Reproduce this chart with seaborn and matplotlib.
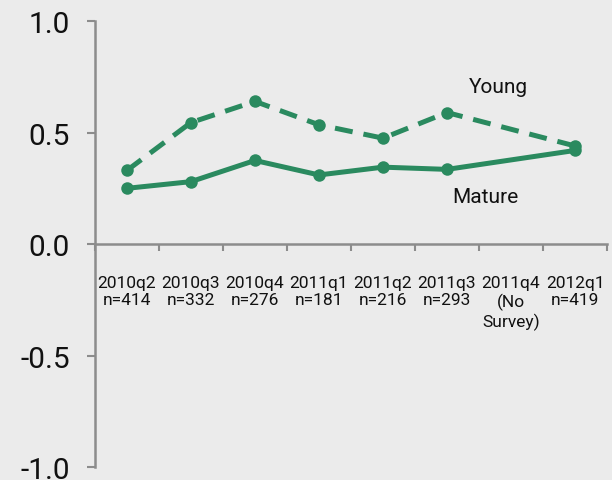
import numpy as np
import pandas as pd
import matplotlib
matplotlib.use("Agg")
import matplotlib.pyplot as plt
import seaborn as sns

# Quarterly survey waves (2011q4 had no survey)
quarters = ["2010q2", "2010q3", "2010q4", "2011q1", "2011q2", "2011q3", "2011q4", "2012q1"]
sample_sizes = ["n=414", "n=332", "n=276", "n=181", "n=216", "n=293", "(No\nSurvey)", "n=419"]
young = [0.33, 0.545, 0.64, 0.535, 0.475, 0.59, np.nan, 0.44]
mature = [0.25, 0.28, 0.375, 0.31, 0.345, 0.335, np.nan, 0.42]

tick_labels = [f"{q}\n{n}" for q, n in zip(quarters, sample_sizes)]

df = pd.DataFrame({
    "pos": list(range(len(quarters))) * 2,
    "value": young + mature,
    "Group": ["Young"] * len(quarters) + ["Mature"] * len(quarters),
}).dropna()

sns.set_theme(style="white")
plt.rcParams["font.family"] = ["Roboto", "DejaVu Sans"]

green = "#2a8a5f"
bg = "#ebebeb"
axis_grey = "#8c8c8c"
text_col = "#111111"

fig = plt.figure(figsize=(6.12, 4.81), dpi=100)
fig.patch.set_facecolor(bg)
ax = fig.add_axes([0.155, 0.027, 0.837, 0.927])
ax.set_facecolor(bg)

sns.lineplot(
    data=df, x="pos", y="value", hue="Group", style="Group",
    palette={"Young": green, "Mature": green},
    dashes={"Young": (3.6, 2.2), "Mature": ""},
    markers={"Young": "o", "Mature": "o"},
    markersize=9, markeredgewidth=0, linewidth=3.6,
    legend=False, ax=ax,
)

ax.set_xlim(-0.5, len(quarters) - 0.5)
ax.set_ylim(-1.0, 1.0)
yticks = [-1.0, -0.5, 0.0, 0.5, 1.0]
ax.set_yticks(yticks, [f"{v:.1f}" for v in yticks])
ax.set_xticks(range(len(quarters)), tick_labels)
ax.set_xticks(np.arange(-0.5, len(quarters) + 0.5, 1.0), minor=True)

ax.tick_params(axis="x", which="major", bottom=True, length=0, pad=22,
               labelsize=12.5, labelcolor=text_col)
ax.tick_params(axis="x", which="minor", bottom=True, length=5, width=1.5,
               color=axis_grey, direction="out")
ax.tick_params(axis="y", left=True, length=6, width=1.5, color=axis_grey,
               direction="out", pad=12, labelsize=21.5, labelcolor=text_col)
for lbl in ax.get_xticklabels():
    lbl.set_linespacing(1.32)

for side in ["top", "right"]:
    ax.spines[side].set_visible(False)
ax.spines["bottom"].set_position(("data", 0))
for side in ["left", "bottom"]:
    ax.spines[side].set_color(axis_grey)
    ax.spines[side].set_linewidth(1.8)

ax.set_xlabel("")
ax.set_ylabel("")

ax.text(5.8, 0.705, "Young", fontsize=15, color=text_col, ha="center", va="center")
ax.text(5.6, 0.215, "Mature", fontsize=15, color=text_col, ha="center", va="center")

fig.savefig("out.png", dpi=100, facecolor=bg)
